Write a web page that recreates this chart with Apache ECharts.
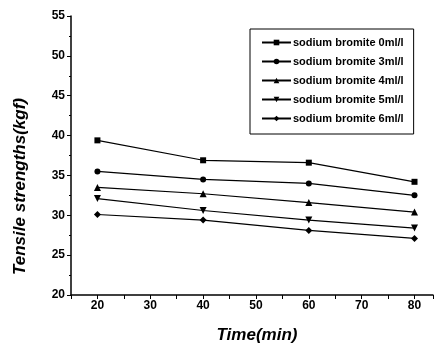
<!DOCTYPE html>
<html>
<head>
<meta charset="utf-8">
<script src="https://cdn.jsdelivr.net/npm/echarts@6/dist/echarts.min.js"></script>
<style>
  html, body { margin: 0; padding: 0; background: #fff; }
  #chart { width: 436px; height: 350px; }
</style>
</head>
<body>
<div id="chart"></div>
<script>
const times = [20, 40, 60, 80];
const seriesNames = [
  "sodium bromite 0ml/l",
  "sodium bromite 3ml/l",
  "sodium bromite 4ml/l",
  "sodium bromite 5ml/l",
  "sodium bromite 6ml/l"
];
const bromite0 = [39.4, 36.9, 36.6, 34.2];
const bromite3 = [35.5, 34.5, 34.0, 32.5];
const bromite4 = [33.5, 32.7, 31.6, 30.4];
const bromite5 = [32.1, 30.6, 29.4, 28.4];
const bromite6 = [30.1, 29.4, 28.1, 27.1];

const values = [bromite0, bromite3, bromite4, bromite5, bromite6];
const symbols = ["rect", "circle", "triangle", "triangle", "diamond"];
const rotations = [0, 0, 0, 180, 0];
const sizes = [6, 6, 7, 7, 7];

const chart = echarts.init(document.getElementById("chart"));
const labelFont = { fontFamily: "Liberation Sans", fontWeight: "bold", color: "#000" };

chart.setOption({
  animation: false,
  grid: { left: 71, top: 16, right: 0, bottom: 55 },
  legend: {
    orient: "vertical",
    left: 250,
    top: 29,
    data: seriesNames,
    itemWidth: 29,
    itemHeight: 7,
    itemGap: 8,
    padding: [8, 10, 10, 11],
    borderColor: "#000",
    borderWidth: 1,
    textStyle: { ...labelFont, fontSize: 11, padding: [0, 0, 0, -3] }
  },
  xAxis: {
    type: "value",
    min: 15,
    max: 83.5,
    interval: 5,
    name: "Time(min)",
    nameLocation: "middle",
    nameGap: 32,
    nameTextStyle: { ...labelFont, fontSize: 17, fontStyle: "italic", padding: [0, 0, 0, 10] },
    axisLine: { show: true, lineStyle: { color: "#000", width: 1.5 } },
    axisTick: { show: true, inside: false, length: 4, lineStyle: { color: "#000" } },
    axisLabel: {
      ...labelFont,
      fontSize: 12,
      margin: 5,
      formatter: v => (v % 10 === 0 && v >= 20 && v <= 80 ? String(v) : "")
    },
    splitLine: { show: false }
  },
  yAxis: {
    type: "value",
    min: 20,
    max: 55,
    interval: 5,
    name: "Tensile strengths(kgf)",
    nameLocation: "middle",
    nameGap: 42,
    nameTextStyle: { ...labelFont, fontSize: 17, fontStyle: "italic", padding: [0, 62, 0, 0] },
    axisLine: { show: true, lineStyle: { color: "#000", width: 1.5 } },
    axisTick: { show: true, inside: false, length: 4, lineStyle: { color: "#000" } },
    minorTick: { show: true, splitNumber: 2, length: 2, lineStyle: { color: "#000" } },
    axisLabel: { ...labelFont, fontSize: 12, margin: 6 },
    splitLine: { show: false }
  },
  series: seriesNames.map((name, i) => ({
    name: name,
    type: "line",
    data: times.map((t, j) => [t, values[i][j]]),
    symbol: symbols[i],
    symbolSize: sizes[i],
    symbolRotate: rotations[i],
    itemStyle: { color: "#000" },
    lineStyle: { color: "#000", width: 1.2 }
  }))
});
</script>
</body>
</html>
